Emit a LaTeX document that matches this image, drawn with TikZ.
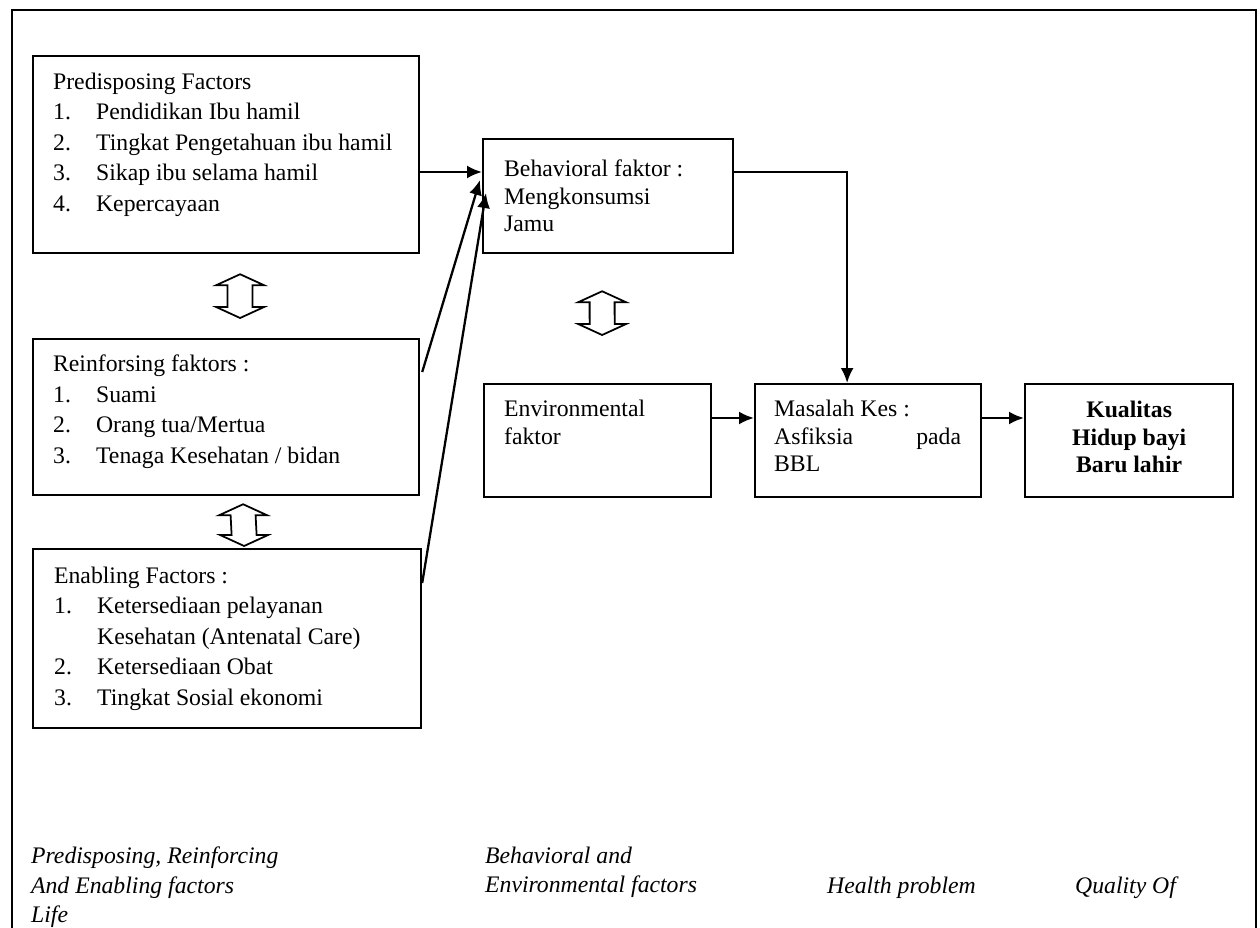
\documentclass[tikz,border=0pt]{standalone}
\usepackage{fontspec}
\setmainfont{Liberation Serif}
\usetikzlibrary{calc,arrows.meta}

% number column of the lists
\newcommand\itemno[1]{\makebox[0.86cm][l]{#1}}

% hollow two-headed arrow between two coordinates
\newcommand\twoway[2]{%
\draw [hollow] ($(#1)+(-12.5,11)$) -- ($(#1)+(-24,11)$) -- (#1) -- ($(#1)+(24,11)$) -- ($(#1)+(12.5,11)$)
  -- ($(#2)+(12.5,-11)$) -- ($(#2)+(24,-11)$) -- (#2) -- ($(#2)+(-24,-11)$) -- ($(#2)+(-12.5,-11)$) -- cycle;}

\begin{document}
\begin{tikzpicture}[x=0.02cm, y=-0.02cm, line width=1.3pt,
  factorbox/.style 2 args={draw, anchor=north west, inner sep=0pt, minimum width=#1, minimum height=#2},
  boxtext/.style={anchor=north west, inner sep=0pt, align=left, font=\fontsize{13.5}{17.3}\selectfont},
  tighttext/.style={boxtext, font=\fontsize{13.5}{15.6}\selectfont},
  legendtext/.style={anchor=north west, inner sep=0pt, align=left, font=\fontsize{13.5}{16.6}\selectfont\itshape},
  link/.style={-{Latex[length=3mm,width=2.6mm]}},
  hollow/.style={line width=1pt, fill=white}]

\useasboundingbox (0,0) rectangle (1260,928);

% outer frame
\draw (12,928) -- (12,10) -- (1256,10) -- (1256,928);

% left column
\node [factorbox={7.72cm}{3.94cm}] (pre) at (32,55) {};
\node [boxtext] (pretext) at ($(pre.north west)+(20,17)$) {
Predisposing Factors\\
\itemno{1.}Pendidikan Ibu hamil\\
\itemno{2.}Tingkat Pengetahuan ibu hamil\\
\itemno{3.}Sikap ibu selama hamil\\
\itemno{4.}Kepercayaan
};

\node [factorbox={7.72cm}{3.12cm}] (rein) at (32,338) {};
\node [boxtext] (reintext) at ($(rein.north west)+(20,16)$) {
Reinforsing faktors :\\
\itemno{1.}Suami\\
\itemno{2.}Orang tua/Mertua\\
\itemno{3.}Tenaga Kesehatan / bidan
};

\node [factorbox={7.76cm}{3.58cm}] (enab) at (32,548) {};
\node [boxtext] (enabtext) at ($(enab.north west)+(21,18)$) {
Enabling Factors :\\
\itemno{1.}Ketersediaan pelayanan\\
\itemno{}Kesehatan (Antenatal Care)\\
\itemno{2.}Ketersediaan Obat\\
\itemno{3.}Tingkat Sosial ekonomi
};

% middle and right
\node [factorbox={5cm}{2.28cm}] (beh) at (482,138) {};
\node [tighttext] (behtext) at ($(beh.north west)+(21,21)$) {
Behavioral faktor :\\
Mengkonsumsi\\
Jamu
};

\node [factorbox={4.54cm}{2.26cm}] (env) at (483,383) {};
\node [tighttext] (envtext) at ($(env.north west)+(20,16)$) {
Environmental\\
faktor
};

\node [factorbox={4.52cm}{2.26cm}] (mas) at (754,383) {};
\node [tighttext] (mastext) at ($(mas.north west)+(19,16)$) {
Masalah Kes :\\
\makebox[3.74cm]{Asfiksia\hfill pada}\\
BBL
};

\node [factorbox={4.16cm}{2.26cm}] (kual) at (1024,383) {};
\node [tighttext, anchor=north, align=center, font=\fontsize{13.5}{15.6}\selectfont\bfseries] (kualtext) at ($(kual.north)+(0,17)$) {
Kualitas\\
Hidup bayi\\
Baru lahir
};

% draw arrows
\draw [link] ($(pre.north east)+(0,117)$) -- ($(beh.north west)+(0,34)$);
\draw [link] ($(rein.north east)+(2,34)$) -- ($(beh.north west)+(-2,42)$);
\draw [link] ($(enab.north east)+(0,35)$) -- ($(beh.north west)+(4,55)$);
\draw [link] ($(beh.north east)+(0,34)$) -| ($(mas.north)+(-21,0)$);
\draw [link] ($(env.north east)+(0,35)$) -- ($(mas.north west)+(0,35)$);
\draw [link] ($(mas.north east)+(0,35)$) -- ($(kual.north west)+(0,35)$);

% hollow arrows
\coordinate (pr1) at ($(pre.south)+(14,20)$);
\coordinate (pr2) at ($(rein.north)+(14,-20)$);
\coordinate (re1) at ($(rein.south)+(17,8)$);
\coordinate (re2) at ($(enab.north)+(17,-2)$);
\coordinate (be1) at ($(beh.south)+(-6,37)$);
\coordinate (be2) at ($(env.north)+(4.5,-48)$);
\twoway{pr1}{pr2}
\twoway{re1}{re2}
\twoway{be1}{be2}

% add texts
\node [legendtext] (lgleft) at (30,846) {
Predisposing, Reinforcing\\
And Enabling factors\\
Life
};
\node [legendtext] (lgmid) at (484,846) {
Behavioral and\\
Environmental factors
};
\node [legendtext] (lghealth) at (826,876) {Health problem};
\node [legendtext] (lgquality) at (1074,876) {Quality Of};

\end{tikzpicture}
\end{document}
